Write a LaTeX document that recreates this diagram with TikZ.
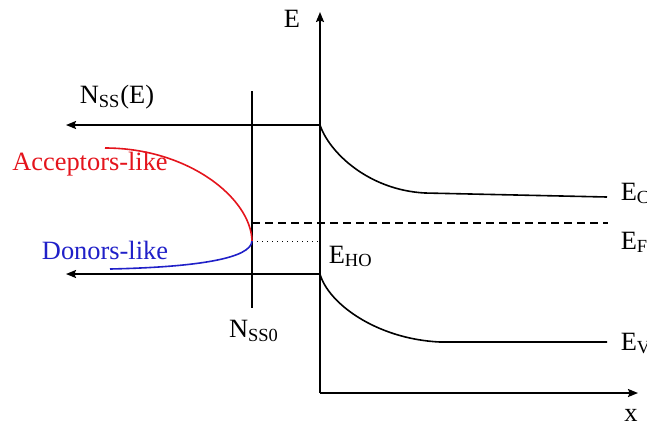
\documentclass[tikz,border=0pt]{standalone}
\usepackage{fontspec}
\setmainfont{Liberation Serif}
\usetikzlibrary{arrows.meta}
\definecolor{accred}{RGB}{228,20,28}
\definecolor{donblue}{RGB}{32,32,200}

\begin{document}
\begin{tikzpicture}[>={Stealth[length=5pt,width=4pt,inset=0.8pt]}, x=0.5pt, y=-0.5pt, line width=0.8pt,
  lbl/.style={inner sep=0pt, font=\fontsize{13.2}{15}\selectfont}]
  \useasboundingbox (0,0) rectangle (647,430);
  % axes
  \coordinate (O) at (320,393);
  \coordinate (Etop) at (320,12);
  \coordinate (xend) at (638,393);
  \draw[->, line width=0.9pt] (O) -- (Etop);
  \draw[->, line width=0.9pt] (O) -- (xend);
  \node[lbl] (Elab) at (292,19) {E};
  \node[lbl] (xlab) at (631,415) {x};
  % N_SS(E) axes, pointing left
  \coordinate (Ctop) at (320,125);
  \coordinate (Vtop) at (320,274);
  \coordinate (Cleft) at (66,125);
  \coordinate (Vleft) at (66,274);
  \foreach \a/\b in {Ctop/Cleft, Vtop/Vleft}{ \draw[->] (\a) -- (\b); }
  \node[lbl] (NSSE) at (117,97) {N\textsubscript{SS}(E)};
  \coordinate (NSStop) at (252,91);
  \coordinate (NSSbot) at (252,308);
  \draw (NSStop) -- (NSSbot);
  \node[lbl] (NSS0) at (254,331) {N\textsubscript{SS0}};
  % bands
  \coordinate (Cend) at (607,197);
  \coordinate (Vend) at (607,342);
  \draw (Ctop) .. controls (329,152) and (368,190) .. (425,193) -- (Cend);
  \draw (Vtop) .. controls (328,303) and (376,339) .. (440,342) -- (Vend);
  \coordinate (EFleft) at (252,223);
  \coordinate (EFend) at (608,223);
  \draw[dash pattern=on 4pt off 2.5pt, line width=0.9pt] (EFleft) -- (EFend);
  \coordinate (neutral) at (252,241);
  \coordinate (EHOaxis) at (320,241);
  \draw[dotted, line width=0.5pt] (neutral) -- (EHOaxis);
  \node[lbl, anchor=base west] (EHO) at (328,263) {E\textsubscript{HO}};
  \node[lbl, anchor=base west] (EC) at (620,200) {E\textsubscript{C}};
  \node[lbl, anchor=base west] (EF) at (620,249) {E\textsubscript{F}};
  \node[lbl, anchor=base west] (EV) at (620,350) {E\textsubscript{V}};
  % surface state densities
  \coordinate (accstart) at (105,148);
  \coordinate (donend) at (110,269);
  \draw[accred] (accstart) .. controls (188,148) and (251,198) .. (neutral);
  \draw[donblue] (neutral) .. controls (251,258) and (200,267) .. (donend);
  \node[lbl, text=accred] (acc) at (90,164) {Acceptors-like};
  \node[lbl, text=donblue] (don) at (105,250) {Donors-like};
\end{tikzpicture}
\end{document}
